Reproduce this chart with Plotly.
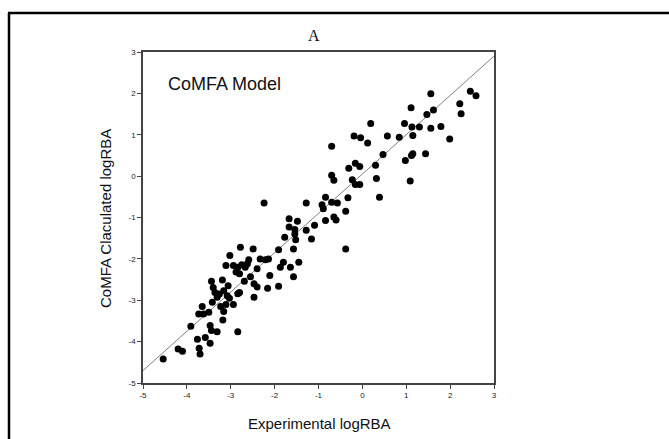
import plotly.graph_objects as go

# Experimental logRBA (x) and CoMFA calculated logRBA (y)
exp_logrba = [
    1.56, 2.46, 2.59, 2.22, 2.25, 1.11, 1.47, 1.62, 0.19, 0.96, 1.13, 1.30, 1.15, 1.56, 1.79, 1.99,
    -0.19, -0.04, 0.12, 0.57, 0.84, -0.70, 0.47, 0.98, 1.12, 1.15, 1.44, -0.31, -0.16, -0.06, 0.30,
    -0.70, -0.65, -0.23, -0.16, -0.06, 0.32, 1.09, 0.39, -0.33, -0.84, -0.70, -0.57, -1.28, -2.24,
    -0.92, -0.89, -0.38, -0.65, -0.60, -0.84, -1.09, -1.28, -1.16, -1.67, -1.48, -1.67, -1.54, -1.54,
    -1.77, -1.52, -1.57, -0.38, -1.91, -2.78, -2.49, -3.02, -2.33, -2.21, -2.14, -2.59, -1.80, -1.45,
    -1.87, -1.64, -1.57, -2.11, -3.11, -2.94, -2.84, -2.75, -2.67, -2.88, -2.80, -2.62, -2.40, -2.55,
    -2.69, -2.47, -2.40, -2.16, -1.91, -3.19, -3.44, -3.40, -3.36, -3.06, -3.16, -3.31, -3.26, -3.42,
    -3.23, -3.08, -3.03, -3.11, -2.94, -2.80, -2.84, -2.47, -3.62, -3.73, -3.65, -3.50, -3.16, -3.18,
    -3.91, -3.47, -3.44, -3.31, -2.84, -3.76, -3.58, -3.47, -3.72, -3.70, -4.20, -4.10, -4.54,
]
calc_logrba = [
    1.99, 2.05, 1.94, 1.75, 1.51, 1.65, 1.49, 1.60, 1.27, 1.27, 1.19, 1.19, 0.98, 1.16, 1.20, 0.90,
    0.97, 0.93, 0.80, 0.97, 0.94, 0.72, 0.52, 0.38, 0.50, 0.54, 0.54, 0.19, 0.31, 0.23, 0.26,
    0.02, -0.10, -0.09, -0.20, -0.20, -0.06, -0.12, -0.51, -0.52, -0.51, -0.63, -0.65, -0.65, -0.65,
    -0.69, -0.79, -0.85, -0.99, -1.06, -1.07, -1.19, -1.31, -1.52, -1.03, -1.09, -1.23, -1.29, -1.40,
    -1.48, -1.54, -1.76, -1.76, -1.78, -1.72, -1.76, -1.92, -2.00, -2.02, -2.00, -2.02, -2.08, -2.08,
    -2.20, -2.20, -2.43, -2.40, -2.16, -2.16, -2.20, -2.14, -2.20, -2.32, -2.36, -2.12, -2.24, -2.43,
    -2.54, -2.60, -2.68, -2.71, -2.66, -2.51, -2.54, -2.69, -2.81, -2.65, -2.77, -2.93, -2.85, -3.05,
    -3.15, -2.89, -2.95, -3.10, -3.10, -2.81, -2.84, -2.93, -3.33, -3.33, -3.15, -3.29, -3.27, -3.48,
    -3.63, -3.61, -3.73, -3.76, -3.76, -3.94, -3.90, -4.04, -4.16, -4.30, -4.18, -4.23, -4.42,
]

# Regression line endpoints
fit_x = [-5, 3]
fit_y = [-4.7, 2.9]

tick_vals = [-5, -4, -3, -2, -1, 0, 1, 2, 3]
tick_text = ["-5", "-4", "-3", "-2", "-1", "0", "1", "2", "3"]

W, H = 669, 439
L, R, T, B = 143, 175, 52, 56
PW, PH = W - L - R, H - T - B


def px(xp):
    return (xp - L) / PW


def py(yp):
    return (H - B - yp) / PH


fig = go.Figure()
fig.add_trace(go.Scatter(x=fit_x, y=fit_y, mode="lines",
                         line=dict(color="#808080", width=1), hoverinfo="skip"))
fig.add_trace(go.Scatter(x=exp_logrba, y=calc_logrba, mode="markers",
                         marker=dict(color="black", size=7, line=dict(width=0))))

axis_common = dict(
    range=[-5, 3], tickvals=tick_vals, ticktext=tick_text,
    showgrid=False, zeroline=False, showline=True, linecolor="#444444", linewidth=1.5,
    mirror=True, ticks="outside", ticklen=4, tickcolor="#444444", tickwidth=1,
    tickfont=dict(family="Liberation Sans, Arial", size=8, color="#222222"),
)

fig.update_layout(
    width=W, height=H,
    margin=dict(l=L, r=R, t=T, b=B),
    paper_bgcolor="white", plot_bgcolor="white",
    showlegend=False,
    xaxis=dict(**axis_common),
    yaxis=dict(**axis_common),
    annotations=[
        dict(text="A", x=px(314), y=py(36), xref="paper", yref="paper", showarrow=False,
             font=dict(family="Liberation Serif, Times New Roman", size=16, color="#111111"),
             xanchor="center", yanchor="middle"),
        dict(text="CoMFA Model", x=px(166), y=py(84), xref="paper", yref="paper", showarrow=False,
             font=dict(family="Liberation Sans, Arial", size=18, color="#111111"),
             xanchor="left", yanchor="middle"),
        dict(text="Experimental logRBA", x=px(319), y=py(423), xref="paper", yref="paper",
             showarrow=False, font=dict(family="Liberation Sans, Arial", size=15, color="#111111"),
             xanchor="center", yanchor="middle"),
        dict(text="CoMFA Claculated logRBA", x=px(105), y=py(219), xref="paper", yref="paper",
             showarrow=False, textangle=-90,
             font=dict(family="Liberation Sans, Arial", size=15, color="#111111"),
             xanchor="center", yanchor="middle"),
    ],
    shapes=[
        dict(type="line", xref="paper", yref="paper", x0=px(9), x1=px(9), y0=py(13), y1=py(H + 5),
             line=dict(color="black", width=2.5)),
        dict(type="line", xref="paper", yref="paper", x0=px(8), x1=px(W + 5), y0=py(13), y1=py(13),
             line=dict(color="black", width=2.5)),
    ],
)

fig.write_html(
    "out.html",
    config={"displayModeBar": False},
    post_script="document.body.style.margin='0';document.body.style.overflow='hidden';",
)
